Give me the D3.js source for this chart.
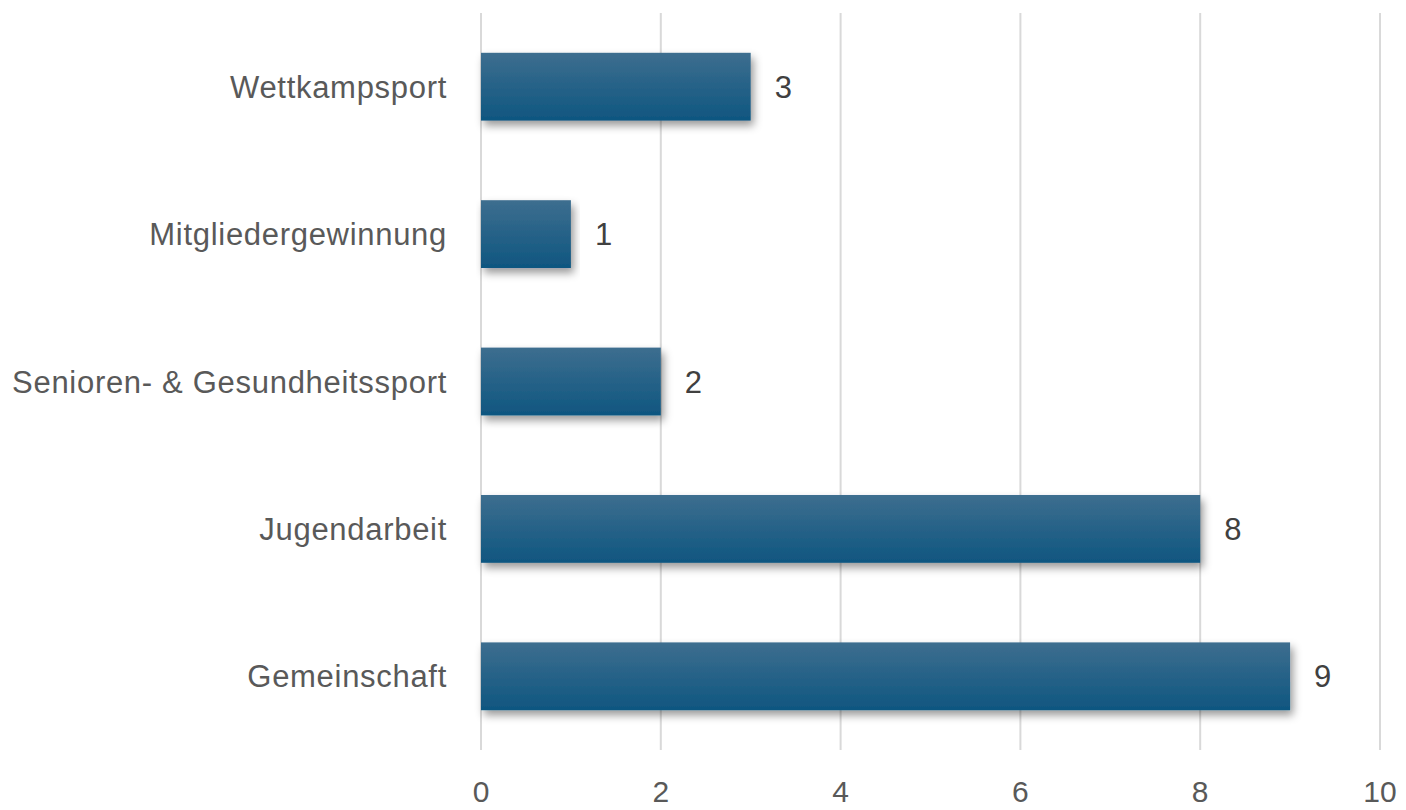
<!DOCTYPE html>
<html>
<head>
<meta charset="utf-8">
<script src="https://cdn.jsdelivr.net/npm/d3@7"></script>
<style>
  body { margin: 0; background: #fff; }
  text { font-family: "Liberation Sans", Arial, sans-serif; }
</style>
</head>
<body>
<div id="chart"></div>
<script>
var categories = ["Wettkampsport", "Mitgliedergewinnung", "Senioren- & Gesundheitssport", "Jugendarbeit", "Gemeinschaft"];
var values = [3, 1, 2, 8, 9];
var xTicks = [0, 2, 4, 6, 8, 10];

var width = 1406, height = 810;
var svg = d3.select("#chart").append("svg")
    .attr("width", width)
    .attr("height", height);

var defs = svg.append("defs");
var grad = defs.append("linearGradient")
    .attr("id", "barGrad")
    .attr("x1", 0).attr("y1", 0).attr("x2", 0).attr("y2", 1);
grad.append("stop").attr("offset", "0%").attr("stop-color", "#3d6e8f");
grad.append("stop").attr("offset", "100%").attr("stop-color", "#0f5680");

var shadow = defs.append("filter").attr("id", "shadow")
    .attr("x", "-5%").attr("y", "-20%").attr("width", "115%").attr("height", "160%");
shadow.append("feDropShadow")
    .attr("dx", 3).attr("dy", 5)
    .attr("stdDeviation", 4)
    .attr("flood-color", "#000")
    .attr("flood-opacity", 0.4);

var x = d3.scaleLinear().domain([0, 10]).range([481, 1380]);
var y = d3.scaleBand().domain(categories).range([13, 750])
    .paddingInner(0.54).paddingOuter(0.27);

// gridlines
svg.append("g").selectAll("line")
    .data(xTicks)
    .enter().append("line")
    .attr("x1", function (d) { return x(d); })
    .attr("x2", function (d) { return x(d); })
    .attr("y1", 13)
    .attr("y2", 750)
    .style("stroke", "#d9d9d9")
    .style("stroke-width", 2);

// x tick labels
svg.append("g").selectAll("text")
    .data(xTicks)
    .enter().append("text")
    .attr("x", function (d) { return x(d); })
    .attr("y", 802)
    .attr("text-anchor", "middle")
    .style("font-size", "30px")
    .style("fill", "#595959")
    .text(function (d) { return d; });

// bars
svg.append("g").selectAll("rect")
    .data(categories)
    .enter().append("rect")
    .attr("x", x(0))
    .attr("y", function (d) { return y(d); })
    .attr("width", function (d, i) { return x(values[i]) - x(0); })
    .attr("height", y.bandwidth())
    .attr("fill", "url(#barGrad)")
    .attr("filter", "url(#shadow)");

// category labels
svg.append("g").selectAll("text")
    .data(categories)
    .enter().append("text")
    .attr("x", 447)
    .attr("y", function (d) { return y(d) + y.bandwidth() / 2; })
    .attr("dy", "0.36em")
    .attr("text-anchor", "end")
    .style("font-size", "31px")
    .style("letter-spacing", "0.7px")
    .style("fill", "#595959")
    .text(function (d) { return d; });

// value labels
svg.append("g").selectAll("text")
    .data(categories)
    .enter().append("text")
    .attr("x", function (d, i) { return x(values[i]) + 24; })
    .attr("y", function (d) { return y(d) + y.bandwidth() / 2; })
    .attr("dy", "0.36em")
    .style("font-size", "31px")
    .style("fill", "#404040")
    .text(function (d, i) { return values[i]; });
</script>
</body>
</html>
